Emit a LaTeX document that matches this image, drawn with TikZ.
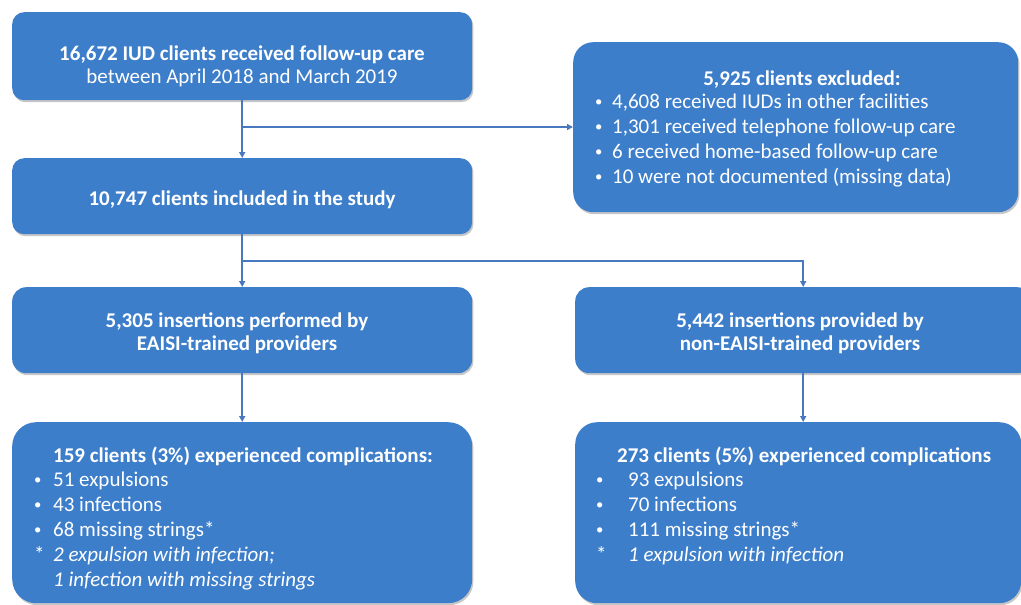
\documentclass[tikz,border=0pt]{standalone}
\usepackage{fontspec}
\usepackage{graphicx}
\setmainfont{Carlito}
\usetikzlibrary{arrows.meta,shadows}
\definecolor{boxblue}{RGB}{61,126,203}
\definecolor{lineblue}{RGB}{72,120,190}
\newcommand{\bulw}[1]{\makebox[#1][l]{\raisebox{1.5pt}{\scalebox{0.7}{•}}}}
\newcommand{\astw}[1]{\makebox[#1][l]{*}}
\begin{document}
\begin{tikzpicture}[x=1pt,y=-1pt,
  box/.style={fill=boxblue, draw=none, rounded corners=#1, anchor=north west, inner sep=0pt,
    drop shadow={shadow xshift=1.2pt, shadow yshift=-2pt, opacity=0.22, fill=black}},
  box/.default=10pt,
  txt/.style={text=white, inner sep=0pt, anchor=base, font=\fontsize{21}{22.5}\selectfont},
  ltxt/.style={text=white, inner sep=0pt, anchor=base west, font=\fontsize{21}{25}\selectfont},
  conn/.style={draw=lineblue, line width=1.6pt},
  arr/.style={conn, -{Triangle[length=6pt,width=6pt]}}
]
\useasboundingbox (0,0) rectangle (1021,605);

% boxes
\node[box=12pt, minimum width=460pt, minimum height=88pt] (b1) at (12,12) {};
\node[box=12pt, minimum width=460pt, minimum height=76pt] (b2) at (12,158) {};
\node[box=20pt, minimum width=445pt, minimum height=170pt] (ex) at (573,42) {};
\node[box=14pt, minimum width=460pt, minimum height=86pt] (l3) at (12,287) {};
\node[box=14pt, minimum width=456pt, minimum height=86pt] (r3) at (575,287) {};
\node[box=24pt, minimum width=460pt, minimum height=181pt] (bl) at (12,422) {};
\node[box=22pt, minimum width=446pt, minimum height=181pt] (br) at (575,422) {};

% texts (multi-line centred nodes: base = baseline of last line)
\node[txt, align=center] (t1) at (242,83)
  {\textbf{16,672 IUD clients received follow-up care}\\ between April 2018 and March 2019};
\node[txt] (t2) at (242,205) {\textbf{10,747 clients included in the study}};
\node[txt] (exh) at (802,85) {\textbf{5,925 clients excluded:}};
\node[ltxt] (exl) at (595,108) {\begin{tabular}[t]{@{}l@{}}
  \bulw{17pt}4,608 received IUDs in other facilities\\
  \bulw{17pt}1,301 received telephone follow-up care\\
  \bulw{17pt}6 received home-based follow-up care\\
  \bulw{17pt}10 were not documented (missing data)
  \end{tabular}};
\node[txt, align=center] (t3l) at (237,350)
  {\textbf{5,305 insertions performed by}\\ \textbf{EAISI-trained providers}};
\node[txt, align=center] (t3r) at (800,350)
  {\textbf{5,442 insertions provided by}\\ \textbf{non-EAISI-trained providers}};
\node[ltxt] (blh) at (53,462) {\textbf{159 clients (3\%) experienced complications:}};
\node[ltxt] (bll) at (34,486) {\begin{tabular}[t]{@{}l@{}}
  \bulw{19pt}51 expulsions\\
  \bulw{19pt}43 infections\\
  \bulw{19pt}68 missing strings*\\
  \astw{19pt}\textit{2 expulsion with infection;}\\
  \makebox[19pt][l]{}\textit{1 infection with missing strings}
  \end{tabular}};
\node[ltxt] (brh) at (617,462) {\textbf{273 clients (5\%) experienced complications}};
\node[ltxt] (brl) at (596,486) {\begin{tabular}[t]{@{}l@{}}
  \bulw{32pt}93 expulsions\\
  \bulw{32pt}70 infections\\
  \bulw{32pt}111 missing strings*\\
  \astw{32pt}\textit{1 expulsion with infection}
  \end{tabular}};

% connectors
\coordinate (j1) at (242,127);
\coordinate (j2) at (242,261);
\draw[arr] (b1.south) -- (b2.north);
\draw[arr] (j1) -- (j1 -| ex.west);
\draw[arr] (b2.south) -- (l3.north);
\draw[arr] (j2) -| (r3.north);
\draw[arr] (l3.south) -- (bl.north -| l3.south);
\draw[arr] (r3.south) -- (br.north -| r3.south);
\end{tikzpicture}
\end{document}
